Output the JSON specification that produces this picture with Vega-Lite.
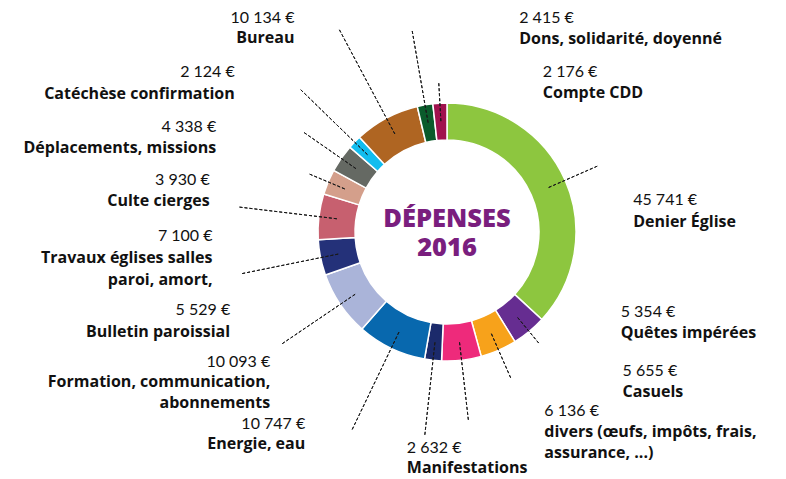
{
  "$schema": "https://vega.github.io/schema/vega-lite/v6.json",
  "width": 678,
  "height": 464,
  "padding": {"left": 108, "top": 0, "right": 0, "bottom": 15},
  "autosize": "none",
  "background": "#ffffff",
  "config": {
    "view": {"stroke": null},
    "locale": {"number": {"decimal": ",", "thousands": " ", "grouping": [3], "currency": ["", " €"]}},
    "text": {"font": "Lato", "color": "#111111"}
  },
  "data": {
    "values": [
      {"i": 1, "name": "Denier Église", "value": 45741},
      {"i": 2, "name": "Quêtes impérées", "value": 5354},
      {"i": 3, "name": "Casuels", "value": 5655},
      {"i": 4, "name": "divers (œufs, impôts, frais,\nassurance, ...)", "value": 6136},
      {"i": 5, "name": "Manifestations", "value": 2632},
      {"i": 6, "name": "Energie, eau", "value": 10747},
      {"i": 7, "name": "Formation, communication,\nabonnements", "value": 10093},
      {"i": 8, "name": "Bulletin paroissial", "value": 5529},
      {"i": 9, "name": "Travaux églises salles\nparoi, amort,", "value": 7100},
      {"i": 10, "name": "Culte cierges", "value": 3930},
      {"i": 11, "name": "Déplacements, missions", "value": 4338},
      {"i": 12, "name": "Catéchèse confirmation", "value": 2124},
      {"i": 13, "name": "Bureau", "value": 10134},
      {"i": 14, "name": "Dons, solidarité, doyenné", "value": 2415},
      {"i": 15, "name": "Compte CDD", "value": 2176}
    ]
  },
  "encoding": {
    "theta": {"field": "value", "type": "quantitative", "stack": true},
    "order": {"field": "i", "type": "quantitative"}
  },
  "layer": [
    {
      "mark": {"type": "arc", "innerRadius": 92, "outerRadius": 129, "stroke": "#ffffff", "strokeWidth": 1.5},
      "encoding": {
        "color": {
          "field": "name", "type": "nominal", "legend": null,
          "scale": {
            "domain": ["Denier Église", "Quêtes impérées", "Casuels", "divers (œufs, impôts, frais,\nassurance, ...)", "Manifestations", "Energie, eau", "Formation, communication,\nabonnements", "Bulletin paroissial", "Travaux églises salles\nparoi, amort,", "Culte cierges", "Déplacements, missions", "Catéchèse confirmation", "Bureau", "Dons, solidarité, doyenné", "Compte CDD"],
            "range": ["#8DC63F", "#662D91", "#F7A21B", "#EE2A7B", "#1B2A6B", "#0868AE", "#AAB4D9", "#243179", "#C7606F", "#D49F8B", "#656963", "#12BDEF", "#AF6522", "#0A5B2B", "#A0124E"]
          }
        }
      }
    },
    {"mark": {"type": "arc", "innerRadius": 110, "outerRadius": 144, "padAngle": 3.1416, "filled": false, "stroke": "#1a1a1a", "strokeWidth": 1, "strokeDash": [3, 2]},
     "encoding": {"strokeOpacity": {"condition": {"test": "datum.i == 2", "value": 1}, "value": 0}}},
    {"mark": {"type": "arc", "innerRadius": 110, "outerRadius": 149, "padAngle": 3.1416, "filled": false, "stroke": "#1a1a1a", "strokeWidth": 1, "strokeDash": [3, 2]},
     "encoding": {"strokeOpacity": {"condition": {"test": "datum.i == 15 || datum.i == 10", "value": 1}, "value": 0}}},
    {"mark": {"type": "arc", "innerRadius": 110, "outerRadius": 159, "padAngle": 3.1416, "filled": false, "stroke": "#1a1a1a", "strokeWidth": 1, "strokeDash": [3, 2]},
     "encoding": {"strokeOpacity": {"condition": {"test": "datum.i == 3", "value": 1}, "value": 0}}},
    {"mark": {"type": "arc", "innerRadius": 110, "outerRadius": 164, "padAngle": 3.1416, "filled": false, "stroke": "#1a1a1a", "strokeWidth": 1, "strokeDash": [3, 2]},
     "encoding": {"strokeOpacity": {"condition": {"test": "datum.i == 1", "value": 1}, "value": 0}}},
    {"mark": {"type": "arc", "innerRadius": 110, "outerRadius": 174, "padAngle": 3.1416, "filled": false, "stroke": "#1a1a1a", "strokeWidth": 1, "strokeDash": [3, 2]},
     "encoding": {"strokeOpacity": {"condition": {"test": "datum.i == 11", "value": 1}, "value": 0}}},
    {"mark": {"type": "arc", "innerRadius": 110, "outerRadius": 189, "padAngle": 3.1416, "filled": false, "stroke": "#1a1a1a", "strokeWidth": 1, "strokeDash": [3, 2]},
     "encoding": {"strokeOpacity": {"condition": {"test": "datum.i == 4", "value": 1}, "value": 0}}},
    {"mark": {"type": "arc", "innerRadius": 110, "outerRadius": 199, "padAngle": 3.1416, "filled": false, "stroke": "#1a1a1a", "strokeWidth": 1, "strokeDash": [3, 2]},
     "encoding": {"strokeOpacity": {"condition": {"test": "datum.i == 7", "value": 1}, "value": 0}}},
    {"mark": {"type": "arc", "innerRadius": 110, "outerRadius": 204, "padAngle": 3.1416, "filled": false, "stroke": "#1a1a1a", "strokeWidth": 1, "strokeDash": [3, 2]},
     "encoding": {"strokeOpacity": {"condition": {"test": "datum.i == 14 || datum.i == 5 || datum.i == 12", "value": 1}, "value": 0}}},
    {"mark": {"type": "arc", "innerRadius": 110, "outerRadius": 209, "padAngle": 3.1416, "filled": false, "stroke": "#1a1a1a", "strokeWidth": 1, "strokeDash": [3, 2]},
     "encoding": {"strokeOpacity": {"condition": {"test": "datum.i == 9 || datum.i == 8", "value": 1}, "value": 0}}},
    {"mark": {"type": "arc", "innerRadius": 110, "outerRadius": 219, "padAngle": 3.1416, "filled": false, "stroke": "#1a1a1a", "strokeWidth": 1, "strokeDash": [3, 2]},
     "encoding": {"strokeOpacity": {"condition": {"test": "datum.i == 6", "value": 1}, "value": 0}}},
    {"mark": {"type": "arc", "innerRadius": 110, "outerRadius": 229, "padAngle": 3.1416, "filled": false, "stroke": "#1a1a1a", "strokeWidth": 1, "strokeDash": [3, 2]},
     "encoding": {"strokeOpacity": {"condition": {"test": "datum.i == 13", "value": 1}, "value": 0}}},

    {"mark": {"type": "text", "radius": 204, "align": "left", "baseline": "alphabetic", "dx": 107, "dy": -8, "fontSize": 16, "fontWeight": 400},
     "encoding": {"text": {"condition": {"test": "datum.i == 14", "field": "value", "type": "quantitative", "format": "$,.0f"}, "value": ""}}},
    {"mark": {"type": "text", "radius": 204, "align": "left", "baseline": "alphabetic", "dx": 107, "dy": 13, "font": "Open Sans", "fontSize": 16, "fontWeight": 700, "lineBreak": "\n", "lineHeight": 21.5},
     "encoding": {"text": {"condition": {"test": "datum.i == 14", "field": "name", "type": "nominal"}, "value": ""}}},

    {"mark": {"type": "text", "radius": 149, "align": "left", "baseline": "alphabetic", "dx": 104, "dy": -6, "fontSize": 16, "fontWeight": 400},
     "encoding": {"text": {"condition": {"test": "datum.i == 15", "field": "value", "type": "quantitative", "format": "$,.0f"}, "value": ""}}},
    {"mark": {"type": "text", "radius": 149, "align": "left", "baseline": "alphabetic", "dx": 104, "dy": 15, "font": "Open Sans", "fontSize": 16, "fontWeight": 700, "lineBreak": "\n", "lineHeight": 21.5},
     "encoding": {"text": {"condition": {"test": "datum.i == 15", "field": "name", "type": "nominal"}, "value": ""}}},

    {"mark": {"type": "text", "radius": 164, "align": "left", "baseline": "alphabetic", "dx": 36, "dy": 39, "fontSize": 16, "fontWeight": 400},
     "encoding": {"text": {"condition": {"test": "datum.i == 1", "field": "value", "type": "quantitative", "format": "$,.0f"}, "value": ""}}},
    {"mark": {"type": "text", "radius": 164, "align": "left", "baseline": "alphabetic", "dx": 36, "dy": 61, "font": "Open Sans", "fontSize": 16, "fontWeight": 700, "lineBreak": "\n", "lineHeight": 21.5},
     "encoding": {"text": {"condition": {"test": "datum.i == 1", "field": "name", "type": "nominal"}, "value": ""}}},

    {"mark": {"type": "text", "radius": 144, "align": "left", "baseline": "alphabetic", "dx": 82, "dy": -26, "fontSize": 16, "fontWeight": 400},
     "encoding": {"text": {"condition": {"test": "datum.i == 2", "field": "value", "type": "quantitative", "format": "$,.0f"}, "value": ""}}},
    {"mark": {"type": "text", "radius": 144, "align": "left", "baseline": "alphabetic", "dx": 82, "dy": -5, "font": "Open Sans", "fontSize": 16, "fontWeight": 700, "lineBreak": "\n", "lineHeight": 21.5},
     "encoding": {"text": {"condition": {"test": "datum.i == 2", "field": "name", "type": "nominal"}, "value": ""}}},

    {"mark": {"type": "text", "radius": 159, "align": "left", "baseline": "alphabetic", "dx": 112, "dy": -2, "fontSize": 16, "fontWeight": 400},
     "encoding": {"text": {"condition": {"test": "datum.i == 3", "field": "value", "type": "quantitative", "format": "$,.0f"}, "value": ""}}},
    {"mark": {"type": "text", "radius": 159, "align": "left", "baseline": "alphabetic", "dx": 112, "dy": 19, "font": "Open Sans", "fontSize": 16, "fontWeight": 700, "lineBreak": "\n", "lineHeight": 21.5},
     "encoding": {"text": {"condition": {"test": "datum.i == 3", "field": "name", "type": "nominal"}, "value": ""}}},

    {"mark": {"type": "text", "radius": 189, "align": "left", "baseline": "alphabetic", "dx": 76, "dy": -4, "fontSize": 16, "fontWeight": 400},
     "encoding": {"text": {"condition": {"test": "datum.i == 4", "field": "value", "type": "quantitative", "format": "$,.0f"}, "value": ""}}},
    {"mark": {"type": "text", "radius": 189, "align": "left", "baseline": "alphabetic", "dx": 76, "dy": 17, "font": "Open Sans", "fontSize": 16, "fontWeight": 700, "lineBreak": "\n", "lineHeight": 21.5},
     "encoding": {"text": {"condition": {"test": "datum.i == 4", "field": "name", "type": "nominal"}, "value": ""}}},

    {"mark": {"type": "text", "radius": 204, "align": "left", "baseline": "alphabetic", "dx": -18, "dy": 18, "fontSize": 16, "fontWeight": 400},
     "encoding": {"text": {"condition": {"test": "datum.i == 5", "field": "value", "type": "quantitative", "format": "$,.0f"}, "value": ""}}},
    {"mark": {"type": "text", "radius": 204, "align": "left", "baseline": "alphabetic", "dx": -18, "dy": 38, "font": "Open Sans", "fontSize": 16, "fontWeight": 700, "lineBreak": "\n", "lineHeight": 21.5},
     "encoding": {"text": {"condition": {"test": "datum.i == 5", "field": "name", "type": "nominal"}, "value": ""}}},

    {"mark": {"type": "text", "radius": 229, "align": "right", "baseline": "alphabetic", "dx": -45, "dy": -7, "fontSize": 16, "fontWeight": 400},
     "encoding": {"text": {"condition": {"test": "datum.i == 13", "field": "value", "type": "quantitative", "format": "$,.0f"}, "value": ""}}},
    {"mark": {"type": "text", "radius": 229, "align": "right", "baseline": "alphabetic", "dx": -45, "dy": 13, "font": "Open Sans", "fontSize": 16, "fontWeight": 700, "lineBreak": "\n", "lineHeight": 21.5},
     "encoding": {"text": {"condition": {"test": "datum.i == 13", "field": "name", "type": "nominal"}, "value": ""}}},

    {"mark": {"type": "text", "radius": 204, "align": "right", "baseline": "alphabetic", "dx": -66, "dy": -13, "fontSize": 16, "fontWeight": 400},
     "encoding": {"text": {"condition": {"test": "datum.i == 12", "field": "value", "type": "quantitative", "format": "$,.0f"}, "value": ""}}},
    {"mark": {"type": "text", "radius": 204, "align": "right", "baseline": "alphabetic", "dx": -66, "dy": 9, "font": "Open Sans", "fontSize": 16, "fontWeight": 700, "lineBreak": "\n", "lineHeight": 21.5},
     "encoding": {"text": {"condition": {"test": "datum.i == 12", "field": "name", "type": "nominal"}, "value": ""}}},

    {"mark": {"type": "text", "radius": 174, "align": "right", "baseline": "alphabetic", "dx": -88, "dy": -1, "fontSize": 16, "fontWeight": 400},
     "encoding": {"text": {"condition": {"test": "datum.i == 11", "field": "value", "type": "quantitative", "format": "$,.0f"}, "value": ""}}},
    {"mark": {"type": "text", "radius": 174, "align": "right", "baseline": "alphabetic", "dx": -88, "dy": 20, "font": "Open Sans", "fontSize": 16, "fontWeight": 700, "lineBreak": "\n", "lineHeight": 21.5},
     "encoding": {"text": {"condition": {"test": "datum.i == 11", "field": "name", "type": "nominal"}, "value": ""}}},

    {"mark": {"type": "text", "radius": 149, "align": "right", "baseline": "alphabetic", "dx": -100, "dy": 11, "fontSize": 16, "fontWeight": 400},
     "encoding": {"text": {"condition": {"test": "datum.i == 10", "field": "value", "type": "quantitative", "format": "$,.0f"}, "value": ""}}},
    {"mark": {"type": "text", "radius": 149, "align": "right", "baseline": "alphabetic", "dx": -100, "dy": 32, "font": "Open Sans", "fontSize": 16, "fontWeight": 700, "lineBreak": "\n", "lineHeight": 21.5},
     "encoding": {"text": {"condition": {"test": "datum.i == 10", "field": "name", "type": "nominal"}, "value": ""}}},

    {"mark": {"type": "text", "radius": 209, "align": "right", "baseline": "alphabetic", "dx": -27, "dy": 34, "fontSize": 16, "fontWeight": 400},
     "encoding": {"text": {"condition": {"test": "datum.i == 9", "field": "value", "type": "quantitative", "format": "$,.0f"}, "value": ""}}},
    {"mark": {"type": "text", "radius": 209, "align": "right", "baseline": "alphabetic", "dx": -27, "dy": 56, "font": "Open Sans", "fontSize": 16, "fontWeight": 700, "lineBreak": "\n", "lineHeight": 21.5},
     "encoding": {"text": {"condition": {"test": "datum.i == 9", "field": "name", "type": "nominal"}, "value": ""}}},

    {"mark": {"type": "text", "radius": 209, "align": "right", "baseline": "alphabetic", "dx": -12, "dy": 41, "fontSize": 16, "fontWeight": 400},
     "encoding": {"text": {"condition": {"test": "datum.i == 8", "field": "value", "type": "quantitative", "format": "$,.0f"}, "value": ""}}},
    {"mark": {"type": "text", "radius": 209, "align": "right", "baseline": "alphabetic", "dx": -12, "dy": 63, "font": "Open Sans", "fontSize": 16, "fontWeight": 700, "lineBreak": "\n", "lineHeight": 21.5},
     "encoding": {"text": {"condition": {"test": "datum.i == 8", "field": "name", "type": "nominal"}, "value": ""}}},

    {"mark": {"type": "text", "radius": 199, "align": "right", "baseline": "alphabetic", "dx": -12, "dy": 23, "fontSize": 16, "fontWeight": 400},
     "encoding": {"text": {"condition": {"test": "datum.i == 7", "field": "value", "type": "quantitative", "format": "$,.0f"}, "value": ""}}},
    {"mark": {"type": "text", "radius": 199, "align": "right", "baseline": "alphabetic", "dx": -12, "dy": 43, "font": "Open Sans", "fontSize": 16, "fontWeight": 700, "lineBreak": "\n", "lineHeight": 21.5},
     "encoding": {"text": {"condition": {"test": "datum.i == 7", "field": "name", "type": "nominal"}, "value": ""}}},

    {"mark": {"type": "text", "radius": 219, "align": "right", "baseline": "alphabetic", "dx": -47, "dy": 0, "fontSize": 16, "fontWeight": 400},
     "encoding": {"text": {"condition": {"test": "datum.i == 6", "field": "value", "type": "quantitative", "format": "$,.0f"}, "value": ""}}},
    {"mark": {"type": "text", "radius": 219, "align": "right", "baseline": "alphabetic", "dx": -47, "dy": 20, "font": "Open Sans", "fontSize": 16, "fontWeight": 700, "lineBreak": "\n", "lineHeight": 21.5},
     "encoding": {"text": {"condition": {"test": "datum.i == 6", "field": "name", "type": "nominal"}, "value": ""}}},

    {"transform": [{"filter": "datum.i == 1"}],
     "mark": {"type": "text", "radius": 0, "text": "DÉPENSES", "align": "center", "baseline": "alphabetic", "dy": -5, "font": "Open Sans", "fontSize": 25.5, "fontWeight": 800, "color": "#7A1E7E"}},
    {"transform": [{"filter": "datum.i == 1"}],
     "mark": {"type": "text", "radius": 0, "text": "2016", "align": "center", "baseline": "alphabetic", "dy": 24, "font": "Open Sans", "fontSize": 25.5, "fontWeight": 800, "color": "#7A1E7E"}}
  ]
}
